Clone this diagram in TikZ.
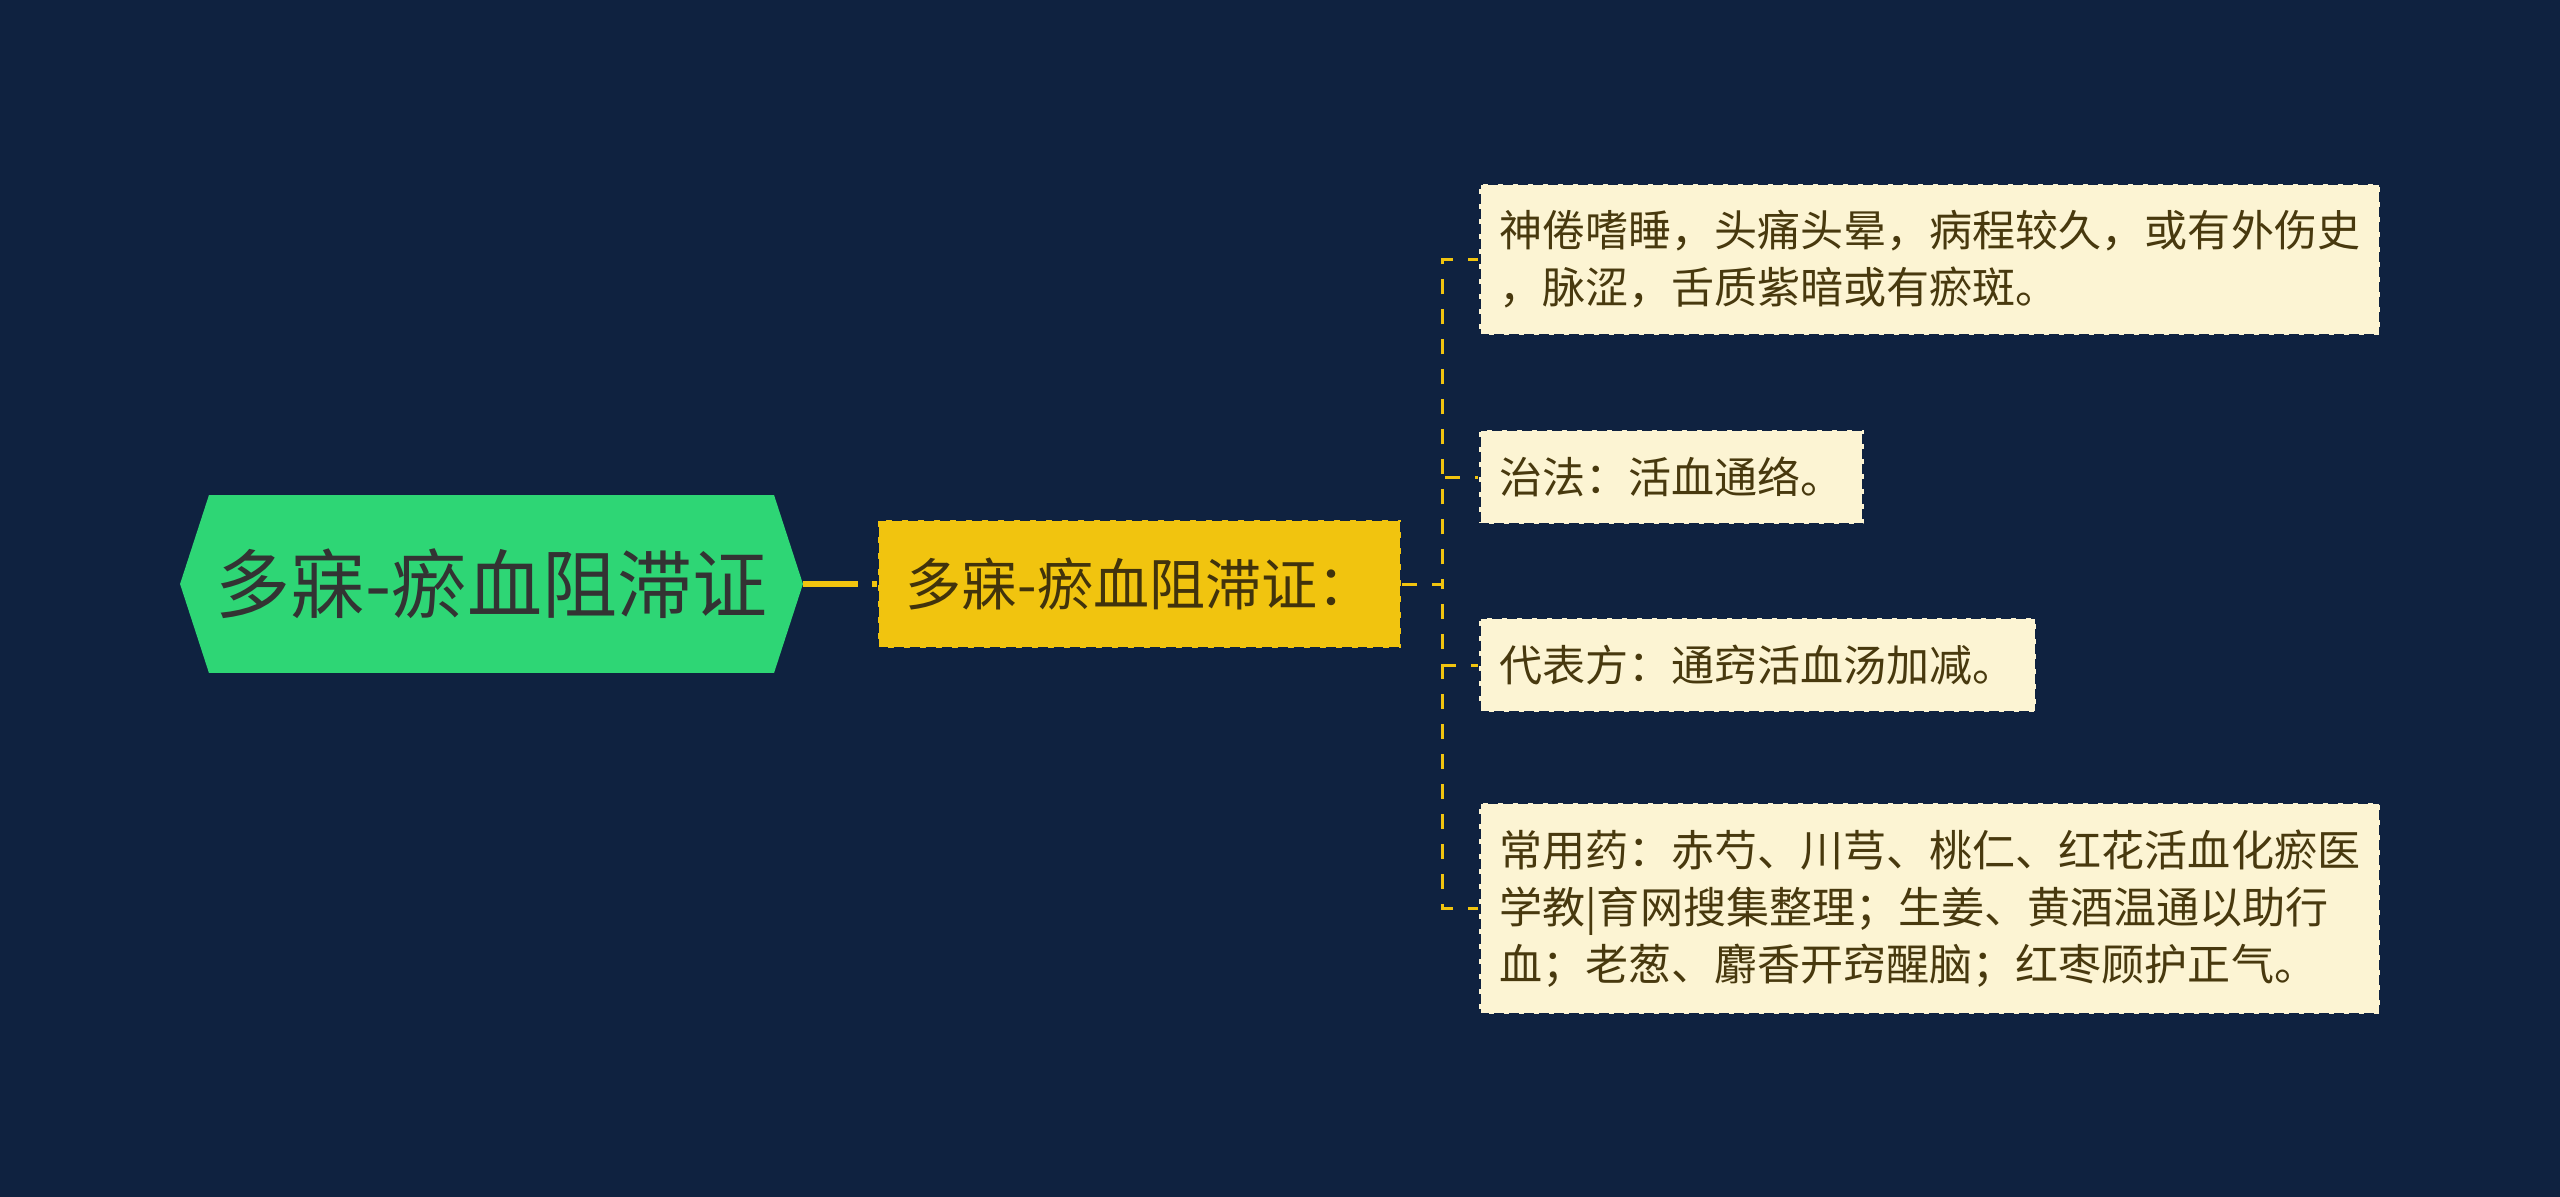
\documentclass[tikz,border=0pt]{standalone}
\usepackage{fontspec}
\newfontfamily\cjk{Noto Sans CJK SC}
\usetikzlibrary{shapes.symbols}

\definecolor{fond}{RGB}{15,34,64}
\definecolor{vert}{RGB}{46,214,117}
\definecolor{jaune}{RGB}{241,196,15}
\definecolor{creme}{RGB}{252,244,211}
\definecolor{brun}{RGB}{72,57,14}
\definecolor{gris}{RGB}{51,51,51}

\tikzset{
  racine/.style={signal, signal to=east and west, signal pointer angle=144,
    fill=vert, text=gris, minimum width=12.46cm, minimum height=3.56cm,
    inner sep=0pt, font=\cjk\fontsize{42.7}{50}\selectfont},
  milieu/.style={fill=jaune, draw=fond, line width=0.04cm,
    dash pattern=on 0.2cm off 0.12cm, text=brun!90!black,
    minimum height=2.58cm, inner xsep=0.56cm,
    font=\cjk\fontsize{31.9}{38}\selectfont},
  feuille/.style={anchor=west, align=left, fill=creme, draw=fond,
    line width=0.05cm, dash pattern=on 0.2cm off 0.1cm, text=brun,
    inner xsep=0.4cm, inner ysep=0.54cm,
    font=\cjk\fontsize{24.5}{32.4}\selectfont},
  lien1/.style={jaune, line width=0.13cm, dash pattern=on 1.1cm off 0.28cm},
  lien2/.style={jaune, line width=0.06cm, dash pattern=on 0.3cm off 0.3cm}
}

\begin{document}
\begin{tikzpicture}[x=0.02cm,y=-0.02cm]
 % fond
 \fill[fond] (0,0) rectangle (2560,1197);
 % noeuds
 \node[racine] (racine) at (491.5,584) {多寐-瘀血阻滞证};
 \node[milieu] (milieu) at (1139.5,584) {多寐-瘀血阻滞证：};
 \node[feuille] (f1) at (1478,259.5) {神倦嗜睡，头痛头晕，病程较久，或有外伤史\\，脉涩，舌质紫暗或有瘀斑。};
 \node[feuille] (f2) at (1478,477) {治法：活血通络。};
 \node[feuille] (f3) at (1478,665) {代表方：通窍活血汤加减。};
 \node[feuille] (f4) at (1478,908.5) {常用药：赤芍、川芎、桃仁、红花活血化瘀医\\学教|育网搜集整理；生姜、黄酒温通以助行\\血；老葱、麝香开窍醒脑；红枣顾护正气。};
 % liens
 \draw[lien1] (racine.east) -- (milieu.west);
 \foreach \f in {f1,f2,f3,f4}
   \draw[lien2] (milieu.east) -- ++(40,0) |- (\f.west);
\end{tikzpicture}
\end{document}
